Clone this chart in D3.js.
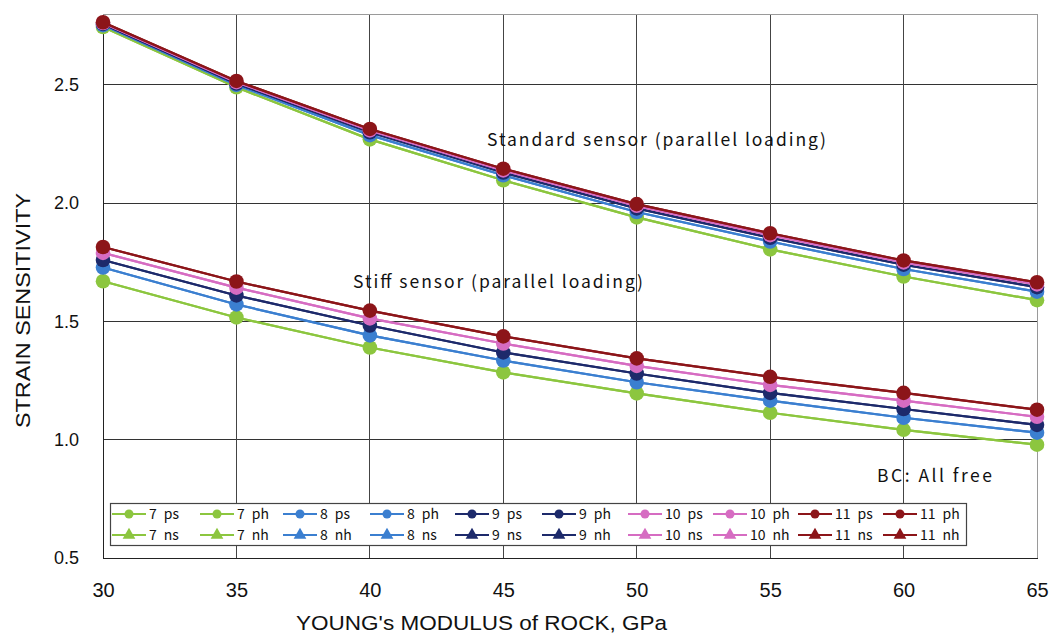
<!DOCTYPE html>
<html><head><meta charset="utf-8">
<script src="https://cdn.jsdelivr.net/npm/d3@7"></script>
<style>
html,body{margin:0;padding:0;background:#fff;}
svg{display:block;}
</style></head>
<body>
<svg id="chart" width="1049" height="636"></svg>
<script>
// ---- data ----
const xValues = [30, 35, 40, 45, 50, 55, 60, 65];
const xTicks = [30, 35, 40, 45, 50, 55, 60, 65];
const yTicks = [0.5, 1.0, 1.5, 2.0, 2.5];
const groups = ["7", "8", "9", "10", "11"];
const groupColors = ["#8cc63f", "#3b7fd0", "#1d2a6b", "#d66cc2", "#8c1519"];
// standard sensor (s) curves
const std7  = [2.745, 2.490, 2.270, 2.097, 1.940, 1.805, 1.690, 1.590];
const std8  = [2.753, 2.500, 2.288, 2.118, 1.963, 1.838, 1.722, 1.626];
const std9  = [2.758, 2.506, 2.300, 2.130, 1.978, 1.854, 1.740, 1.645];
const std10 = [2.762, 2.512, 2.308, 2.139, 1.989, 1.865, 1.750, 1.657];
const std11 = [2.765, 2.517, 2.314, 2.146, 1.996, 1.873, 1.758, 1.666];
// stiff sensor (h) curves
const stf7  = [1.670, 1.517, 1.390, 1.285, 1.196, 1.114, 1.042, 0.979];
const stf8  = [1.728, 1.572, 1.441, 1.335, 1.243, 1.165, 1.093, 1.030];
const stf9  = [1.760, 1.610, 1.483, 1.369, 1.280, 1.198, 1.130, 1.063];
const stf10 = [1.790, 1.643, 1.513, 1.407, 1.312, 1.232, 1.165, 1.097];
const stf11 = [1.815, 1.669, 1.546, 1.437, 1.344, 1.266, 1.198, 1.127];
const stdSeries = [std7, std8, std9, std10, std11];
const stfSeries = [stf7, stf8, stf9, stf10, stf11];
// legend entries (row 1, row 2) as shown
const legendRow1 = ["ps", "ph", "ps", "ph", "ps", "ph", "ps", "ph", "ps", "ph"];
const legendRow2 = ["ns", "nh", "nh", "ns", "ns", "nh", "ns", "nh", "ns", "nh"];
const annotations = ["Standard sensor (parallel loading)", "Stiff sensor (parallel loading)", "BC: All free"];

// ---- build series table ----
const series = [];
groups.forEach((g, i) => {
  ["ns", "ps"].forEach(t => series.push({name: g + " " + t, group: i, vals: stdSeries[i], shape: t[0] === "p" ? "circle" : "triangle"}));
  ["nh", "ph"].forEach(t => series.push({name: g + " " + t, group: i, vals: stfSeries[i], shape: t[0] === "p" ? "circle" : "triangle"}));
});

const svg = d3.select("#chart");
const x = d3.scaleLinear().domain([30, 65]).range([103, 1037]);
const y = d3.scaleLinear().domain([0.5, 2.8]).range([558, 14]);

const fontGothic = "'Noto Sans CJK JP','DejaVu Sans',sans-serif";
const fontNarrow = "'Liberation Sans Narrow','Liberation Sans',Arial,sans-serif";

// grid
const grid = svg.append("g");
grid.selectAll("line.h").data(yTicks.slice(1)).join("line")
  .attr("x1", x(30)).attr("x2", x(65)).attr("y1", d => y(d)).attr("y2", d => y(d))
  .attr("stroke", "#333").attr("stroke-width", 1).attr("shape-rendering", "crispEdges");
grid.selectAll("line.v").data(xTicks.slice(1, -1)).join("line")
  .attr("x1", d => x(d)).attr("x2", d => x(d)).attr("y1", y(2.8)).attr("y2", y(0.5))
  .attr("stroke", "#444").attr("stroke-width", 1).attr("shape-rendering", "crispEdges");
// top & right border
grid.append("line").attr("x1", x(30)).attr("x2", x(65)).attr("y1", y(2.8)).attr("y2", y(2.8))
  .attr("stroke", "#9a9a9a").attr("shape-rendering", "crispEdges");
grid.append("line").attr("x1", x(65)).attr("x2", x(65)).attr("y1", y(2.8)).attr("y2", y(0.5))
  .attr("stroke", "#9a9a9a").attr("shape-rendering", "crispEdges");

// axes
const xAxis = svg.append("g").attr("transform", `translate(0,${y(0.5)})`)
  .call(d3.axisBottom(x).tickValues(xTicks).tickSize(0).tickPadding(25).tickFormat(d3.format("d")));
xAxis.select(".domain").attr("stroke", "#222").attr("shape-rendering", "crispEdges");
xAxis.selectAll("text").attr("font-family", fontNarrow).attr("font-size", 20).attr("fill", "#111");

const yAxis = svg.append("g").attr("transform", `translate(${x(30)},0)`)
  .call(d3.axisLeft(y).tickValues(yTicks).tickSize(0).tickPadding(24).tickFormat(d3.format(".1f")));
yAxis.select(".domain").attr("stroke", "#222").attr("shape-rendering", "crispEdges");
yAxis.selectAll("text").attr("font-family", "'Liberation Sans',Arial,sans-serif").attr("font-size", 18).attr("fill", "#111");

// axis titles
svg.append("text").attr("x", 296).attr("y", 630).attr("textLength", 371).attr("lengthAdjust", "spacingAndGlyphs")
  .attr("font-family", fontNarrow).attr("font-size", 21).attr("fill", "#111")
  .text("YOUNG's MODULUS of ROCK, GPa");
svg.append("text").attr("transform", "translate(30,428) rotate(-90)").attr("textLength", 235).attr("lengthAdjust", "spacingAndGlyphs")
  .attr("font-family", fontNarrow).attr("font-size", 21).attr("fill", "#111")
  .text("STRAIN SENSITIVITY");

// annotations
const annPos = [[487, 146, 339], [353, 288, 290], [877, 482, 115]];
annotations.forEach((t, i) => {
  svg.append("text").attr("x", annPos[i][0]).attr("y", annPos[i][1])
    .attr("textLength", annPos[i][2]).attr("lengthAdjust", "spacing")
    .attr("font-family", fontGothic).attr("font-size", 17.5).attr("fill", "#111").text(t);
});

// lines & markers
const line = d3.line().x((d, i) => x(xValues[i])).y(d => y(d));
const triPath = d3.symbol().type(d3.symbolTriangle).size(60);
const plot = svg.append("g");
series.forEach(s => {
  const c = groupColors[s.group];
  const g = plot.append("g");
  g.append("path").attr("d", line(s.vals)).attr("fill", "none").attr("stroke", c).attr("stroke-width", 2.2);
  s.vals.forEach((v, i) => {
    if (s.shape === "circle") {
      g.append("circle").attr("cx", x(xValues[i])).attr("cy", y(v)).attr("r", 7.3).attr("fill", c);
    } else {
      g.append("path").attr("d", triPath()).attr("transform", `translate(${x(xValues[i])},${y(v)})`).attr("fill", c);
    }
  });
});

// legend
const leg = svg.append("g");
leg.append("rect").attr("x", 110.5).attr("y", 503.5).attr("width", 856).attr("height", 42)
  .attr("fill", "#fff").attr("stroke", "#444").attr("stroke-width", 1.2);
const colStarts = [112, 200, 283, 370, 455, 542, 628, 713, 798, 883];
[legendRow1, legendRow2].forEach((row, r) => {
  const cy = r === 0 ? 514 : 535;
  row.forEach((suffix, ci) => {
    const gi = Math.floor(ci / 2);
    const c = groupColors[gi];
    const x0 = colStarts[ci];
    leg.append("line").attr("x1", x0).attr("x2", x0 + 34).attr("y1", cy).attr("y2", cy).attr("stroke", c).attr("stroke-width", 2);
    if (r === 0) leg.append("circle").attr("cx", x0 + 17).attr("cy", cy).attr("r", 4.5).attr("fill", c);
    else leg.append("path").attr("d", d3.symbol().type(d3.symbolTriangle).size(70)()).attr("transform", `translate(${x0 + 17},${cy})`).attr("fill", c);
    const t = leg.append("text").attr("x", x0 + 37).attr("y", cy + 5)
      .attr("font-family", fontGothic).attr("font-size", 14).attr("fill", "#111");
    t.append("tspan").text(groups[gi]);
    t.append("tspan").attr("dx", 7).text(suffix);
  });
});
</script>
</body></html>
